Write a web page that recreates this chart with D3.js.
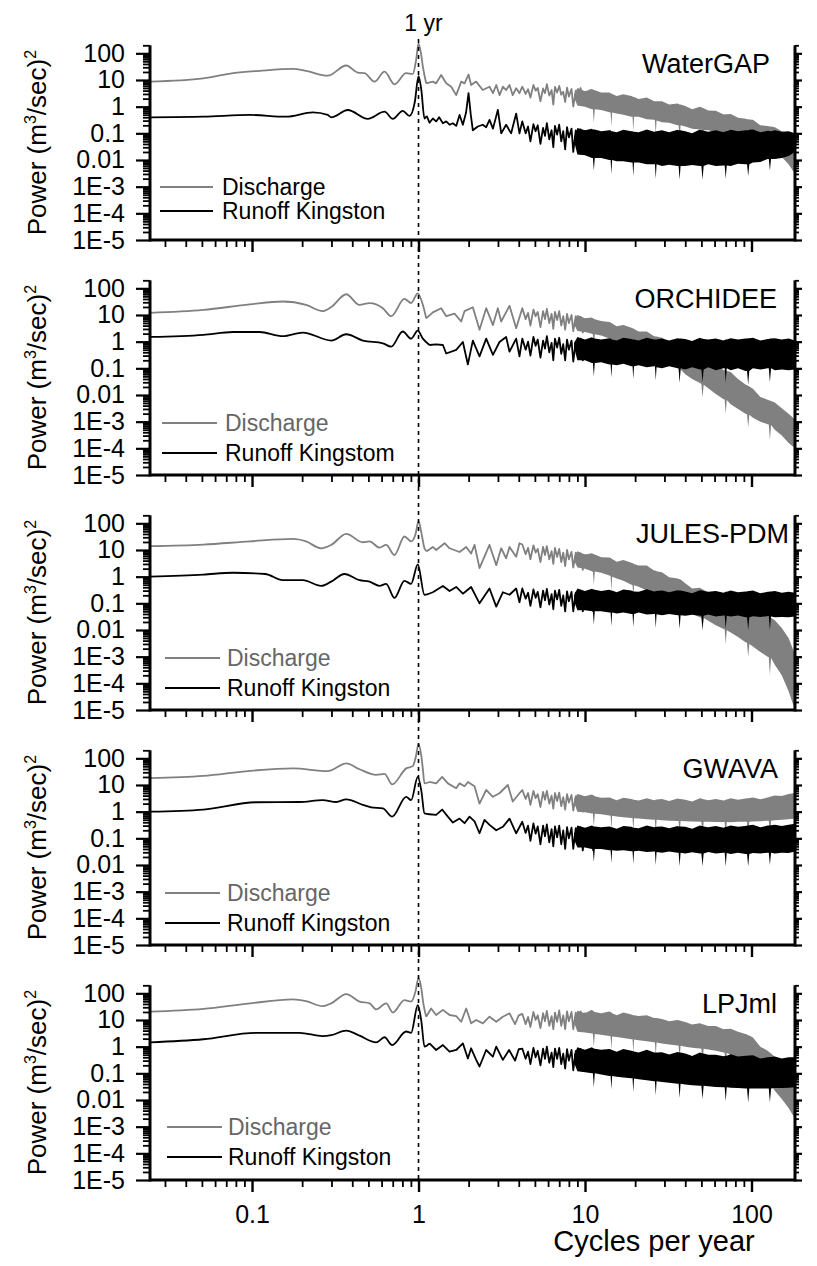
<!DOCTYPE html>
<html>
<head>
<meta charset="utf-8">
<script src="https://cdnjs.cloudflare.com/ajax/libs/d3/7.8.5/d3.min.js"></script>
<style>
body { margin: 0; background: #fff; }
svg text { font-family: "Liberation Sans", Arial, sans-serif; }
</style>
</head>
<body>
<svg></svg>
<script>
// ---- data: [cycles per year, power] ----
var panelNames = ["WaterGAP", "ORCHIDEE", "JULES-PDM", "GWAVA", "LPJml"];
var runoffNames = ["Runoff Kingston", "Runoff Kingstom", "Runoff Kingston", "Runoff Kingston", "Runoff Kingston"];
var yTickValues = [100, 10, 1, 0.1, 0.01, 1e-3, 1e-4, 1e-5];
var yTickLabels = ["100", "10", "1", "0.1", "0.01", "1E-3", "1E-4", "1E-5"];
var xTickValues = [0.1, 1, 10, 100];
var xTickLabels = ["0.1", "1", "10", "100"];

var waterGapDischarge = [[0.0244,8.7],[0.051,11.5],[0.077,18],[0.111,22],[0.176,26],[0.211,22],[0.285,14.5],[0.368,35],[0.432,19],[0.474,18],[0.544,8.7],[0.625,20.5],[0.717,6.9],[0.843,18],[0.924,17],[0.967,56],[1.0,230],[1.035,100],[1.062,32],[1.112,7.5],[1.219,8.7],[1.276,7.5],[1.368,15.4],[1.467,7.5],[1.572,5.6],[1.684,2.7],[1.805,8.7],[1.89,7.5],[1.997,16],[2.07,6.5],[2.22,8.7],[2.43,4.2],[2.67,5.6],[2.8,3.2],[2.93,6.5],[3.07,2.7],[3.21,5.6],[3.36,4.2],[3.52,6.5],[3.68,2.7],[3.86,4.9],[4.04,3.2],[4.2,5.6],[4.4,3.0],[4.55,4.5],[4.7,2.2],[4.9,6.5],[5.05,4.0],[5.2,5.0],[5.4,1.6],[5.6,4.8],[5.75,3.2],[5.9,7.0],[6.1,2.6],[6.3,4.2],[6.45,1.2],[6.6,5.5],[6.8,3.4],[7.0,6.0],[7.2,2.8],[7.4,3.6],[7.6,1.5],[7.8,5.2],[8.0,2.4],[8.3,4.6],[8.5,1.0],[8.8,4.0],[9.1,2.6],[9.4,5.0],[9.7,1.8],[10.0,3.6],[10.4,1.3],[10.8,4.2],[11.2,2.0],[11.6,3.4],[12,0.9]];
var waterGapRunoff = [[0.0244,0.40],[0.051,0.42],[0.097,0.49],[0.16,0.42],[0.232,0.61],[0.285,0.49],[0.299,0.40],[0.376,0.75],[0.496,0.35],[0.625,0.65],[0.701,0.35],[0.804,0.69],[0.882,0.45],[0.95,1.5],[1.0,14],[1.04,4.2],[1.086,0.36],[1.12,0.45],[1.164,0.25],[1.219,0.36],[1.276,0.28],[1.33,0.40],[1.401,0.24],[1.467,0.28],[1.536,0.21],[1.608,0.24],[1.684,0.19],[1.764,0.49],[1.847,0.21],[1.93,0.6],[1.997,3.2],[2.06,0.5],[2.12,0.13],[2.27,0.18],[2.43,0.21],[2.55,0.17],[2.67,0.32],[2.8,0.15],[2.995,0.75],[3.14,0.1],[3.36,0.21],[3.6,0.1],[3.86,0.55],[4.04,0.1],[4.2,0.28],[4.4,0.1],[4.55,0.18],[4.7,0.05],[4.9,0.22],[5.05,0.12],[5.2,0.2],[5.4,0.04],[5.6,0.16],[5.75,0.08],[5.9,0.24],[6.1,0.06],[6.3,0.13],[6.45,0.03],[6.6,0.19],[6.8,0.09],[7.0,0.21],[7.2,0.05],[7.4,0.12],[7.6,0.025],[7.8,0.17],[8.0,0.07],[8.3,0.15],[8.5,0.02],[8.8,0.13],[9.1,0.05],[9.4,0.14],[9.7,0.02],[10.0,0.12],[10.4,0.04],[10.8,0.13],[11.2,0.02],[11.6,0.11],[12,0.03]];
// dense noisy high-frequency part: [cycles per year, low, high]
var waterGapDischargeBand = [[8.6,2.2,2.8],[9,1.1,5],[10,1.0,3.8],[11,0.8,4.6],[11.15,0.8,4.4],[11.3,0.25,4.2],[11.45,0.8,4.1],[12.5,0.75,3.4],[14,0.62,3.4],[14.25,0.6,3.2],[14.4,0.18,3.1],[14.55,0.6,3.0],[15.5,0.55,2.5],[17,0.5,2.9],[19,0.42,2.5],[19.3,0.42,2.4],[19.5,0.12,2.3],[19.7,0.42,2.3],[21,0.42,1.95],[23.5,0.34,2.2],[26,0.32,1.6],[26.3,0.3,1.6],[26.6,0.09,1.6],[26.9,0.3,1.6],[29,0.26,1.6],[32,0.25,1.2],[36,0.2,1.3],[36.5,0.2,1.25],[37,0.06,1.2],[37.5,0.2,1.2],[40,0.18,1.05],[44,0.15,0.8],[49,0.14,1.0],[50,0.14,0.95],[50.8,0.04,0.9],[51.6,0.13,0.88],[55,0.13,0.72],[61,0.11,0.7],[68,0.09,0.51],[69,0.09,0.52],[70,0.03,0.52],[71,0.085,0.52],[75,0.08,0.53],[83,0.065,0.38],[92,0.055,0.35],[94,0.052,0.34],[95.5,0.015,0.34],[97,0.05,0.33],[102,0.045,0.32],[113,0.036,0.2],[125,0.028,0.19],[127,0.027,0.185],[129,0.008,0.18],[131,0.025,0.18],[138,0.02,0.17],[152,0.013,0.12],[167,0.007,0.1],[182.5,0.003,0.06]];
var waterGapRunoffBand = [[8.6,0.05,0.07],[9,0.016,0.16],[10,0.015,0.13],[11,0.012,0.15],[11.15,0.012,0.14],[11.3,0.004,0.14],[11.45,0.012,0.14],[12.5,0.012,0.12],[14,0.01,0.13],[14.25,0.01,0.13],[14.4,0.003,0.12],[14.55,0.01,0.12],[15.5,0.009,0.11],[17,0.009,0.135],[19,0.008,0.12],[19.3,0.008,0.12],[19.5,0.0025,0.115],[19.7,0.008,0.115],[21,0.008,0.11],[23.5,0.007,0.14],[26,0.007,0.115],[26.3,0.007,0.115],[26.6,0.002,0.12],[26.9,0.007,0.12],[29,0.006,0.13],[32,0.0066,0.11],[36,0.006,0.135],[36.5,0.006,0.13],[37,0.0018,0.13],[37.5,0.006,0.13],[40,0.006,0.12],[44,0.0065,0.1],[49,0.006,0.14],[50,0.006,0.13],[50.8,0.0018,0.13],[51.6,0.006,0.125],[55,0.007,0.115],[61,0.006,0.13],[68,0.0062,0.11],[69,0.0062,0.115],[70,0.002,0.12],[71,0.0062,0.12],[75,0.006,0.135],[83,0.0072,0.12],[92,0.007,0.13],[94,0.007,0.13],[95.5,0.0025,0.13],[97,0.007,0.135],[102,0.008,0.14],[113,0.0085,0.11],[125,0.011,0.125],[127,0.011,0.125],[129,0.004,0.12],[131,0.011,0.12],[138,0.011,0.13],[152,0.012,0.115],[167,0.014,0.12],[182.5,0.02,0.1]];

var orchideeDischarge = [[0.0244,12],[0.051,15.5],[0.097,25],[0.153,32],[0.211,24],[0.266,14],[0.299,20],[0.368,60],[0.442,24],[0.508,28],[0.611,18],[0.685,9],[0.823,40],[0.903,28],[0.99,65],[1.062,24],[1.112,7.5],[1.219,12.6],[1.368,18],[1.467,9],[1.646,11.3],[1.805,5.7],[1.89,14],[2.12,19.5],[2.325,2.8],[2.55,18],[2.8,4.2],[2.995,18],[3.136,5.7],[3.52,22],[3.86,3.2],[4.2,18],[4.4,7],[4.55,12],[4.7,4],[4.9,16],[5.05,9],[5.2,13],[5.4,3.5],[5.6,14],[5.75,7],[5.9,17],[6.1,5],[6.3,11],[6.45,3],[6.6,13],[6.8,6.5],[7.0,14],[7.2,4],[7.4,9],[7.6,2.8],[7.8,11],[8.0,5],[8.3,10],[8.5,2.5],[8.8,9],[9.1,4],[9.4,8.5],[9.7,2.2],[10.0,7],[10.4,3],[10.8,6.5],[11.2,2],[11.6,5.5],[12,2]];
var orchideeRunoff = [[0.0244,1.5],[0.051,1.8],[0.077,2.3],[0.111,2.3],[0.153,1.6],[0.202,2.2],[0.299,1.1],[0.368,1.9],[0.463,1.1],[0.611,0.87],[0.685,0.65],[0.804,2.4],[0.903,1.3],[0.99,2.6],[1.062,1.3],[1.164,0.75],[1.276,0.79],[1.401,0.75],[1.467,0.36],[1.684,0.49],[1.847,0.97],[1.979,0.14],[2.12,1.1],[2.325,0.28],[2.55,1.3],[2.8,0.32],[3.065,0.97],[3.36,1.5],[3.52,0.42],[3.86,1.3],[4.04,0.28],[4.2,1.3],[4.4,0.5],[4.55,1.0],[4.7,0.3],[4.9,1.5],[5.05,0.7],[5.2,1.2],[5.4,0.25],[5.6,1.1],[5.75,0.55],[5.9,1.6],[6.1,0.4],[6.3,0.9],[6.45,0.2],[6.6,1.3],[6.8,0.6],[7.0,1.4],[7.2,0.35],[7.4,0.8],[7.6,0.2],[7.8,1.2],[8.0,0.5],[8.3,1.1],[8.5,0.18],[8.8,1.0],[9.1,0.4],[9.4,1.3],[9.7,0.2],[10.0,0.9],[10.4,0.3],[10.8,1.1],[11.2,0.18],[11.6,1.0],[12,0.25]];
var orchideeDischargeBand = [[8.6,4.5,6],[9,2.5,10],[10,2.3,7.5],[11,2.0,8],[11.15,1.95,7.6],[11.3,0.6,7.3],[11.45,1.9,7.0],[12.5,1.7,5.9],[14,1.3,5.5],[14.25,1.25,5.2],[14.4,0.38,5.0],[14.55,1.2,4.8],[15.5,1.0,3.8],[17,0.85,4.2],[19,0.65,3.3],[19.3,0.64,3.2],[19.5,0.19,3.1],[19.7,0.62,3.0],[21,0.55,2.4],[23.5,0.4,2.4],[26,0.32,1.6],[26.3,0.31,1.6],[26.6,0.09,1.55],[26.9,0.3,1.55],[29,0.22,1.4],[32,0.17,0.95],[36,0.1,0.85],[36.5,0.1,0.8],[37,0.028,0.78],[37.5,0.09,0.76],[40,0.06,0.57],[44,0.04,0.36],[49,0.028,0.38],[50,0.026,0.34],[50.8,0.008,0.32],[51.6,0.024,0.3],[55,0.018,0.2],[61,0.011,0.15],[68,0.007,0.085],[69,0.0068,0.085],[70,0.002,0.083],[71,0.0065,0.08],[75,0.0045,0.073],[83,0.003,0.04],[92,0.002,0.025],[94,0.0019,0.023],[95.5,0.0006,0.022],[97,0.0018,0.021],[102,0.0014,0.017],[113,0.001,0.0085],[125,0.0008,0.0066],[127,0.00078,0.0064],[129,0.0002,0.0062],[131,0.00075,0.006],[138,0.0005,0.0052],[152,0.0003,0.0032],[167,0.00016,0.002],[182.5,0.0001,0.0012]];
var orchideeRunoffBand = [[8.6,0.6,0.9],[9,0.2,1.5],[10,0.2,1.2],[11,0.16,1.45],[11.15,0.16,1.4],[11.3,0.05,1.35],[11.45,0.16,1.3],[12.5,0.17,1.2],[14,0.14,1.35],[14.25,0.14,1.3],[14.4,0.045,1.25],[14.55,0.14,1.2],[15.5,0.13,1.1],[17,0.15,1.4],[19,0.12,1.25],[19.3,0.12,1.2],[19.5,0.04,1.2],[19.7,0.12,1.2],[21,0.13,1.1],[23.5,0.11,1.4],[26,0.12,1.2],[26.3,0.12,1.2],[26.6,0.035,1.2],[26.9,0.11,1.2],[29,0.1,1.3],[32,0.12,1.1],[36,0.1,1.35],[36.5,0.1,1.3],[37,0.03,1.3],[37.5,0.1,1.3],[40,0.09,1.25],[44,0.11,1.05],[49,0.09,1.4],[50,0.09,1.3],[50.8,0.03,1.3],[51.6,0.09,1.25],[55,0.11,1.2],[61,0.085,1.3],[68,0.1,1.1],[69,0.1,1.15],[70,0.03,1.2],[71,0.1,1.2],[75,0.085,1.35],[83,0.1,1.2],[92,0.08,1.3],[94,0.08,1.3],[95.5,0.025,1.35],[97,0.08,1.35],[102,0.1,1.4],[113,0.09,1.1],[125,0.1,1.25],[127,0.1,1.25],[129,0.03,1.3],[131,0.1,1.3],[138,0.085,1.35],[152,0.09,1.2],[167,0.085,1.3],[182.5,0.09,1.1]];

var julesDischarge = [[0.0244,14],[0.051,16],[0.097,21],[0.176,26],[0.211,21],[0.26,11.6],[0.299,15.5],[0.368,40],[0.463,19.5],[0.508,21],[0.583,12.3],[0.639,15.5],[0.717,6.5],[0.823,32],[0.903,21],[0.96,40],[1.0,120],[1.04,45],[1.086,11.6],[1.12,9],[1.219,13],[1.276,10],[1.434,18],[1.536,11.6],[1.764,8.4],[1.934,13],[2.07,7.4],[2.17,15.5],[2.325,2.1],[2.669,15.5],[2.93,2.7],[3.136,11.6],[3.36,4.9],[3.52,13],[3.86,5.6],[4.04,18],[4.2,16],[4.4,7],[4.55,12],[4.7,4.5],[4.9,15],[5.05,8],[5.2,11],[5.4,3.5],[5.6,13],[5.75,6.5],[5.9,14],[6.1,4.5],[6.3,9],[6.45,3],[6.6,12],[6.8,5.5],[7.0,11],[7.2,3.5],[7.4,8],[7.6,2.5],[7.8,10],[8.0,4.5],[8.3,8.5],[8.5,2.2],[8.8,8],[9.1,3.5],[9.4,7.5],[9.7,1.8],[10.0,6.5],[10.4,2.5],[10.8,6],[11.2,1.6],[11.6,5],[12,1.5]];
var julesRunoff = [[0.0244,1.0],[0.051,1.2],[0.077,1.4],[0.12,1.26],[0.153,0.74],[0.202,0.74],[0.26,0.45],[0.299,0.65],[0.359,1.26],[0.442,0.74],[0.508,0.65],[0.583,0.45],[0.639,0.54],[0.717,0.16],[0.823,0.69],[0.903,0.54],[0.99,2.9],[1.086,0.21],[1.219,0.26],[1.401,0.45],[1.536,0.29],[1.684,0.41],[1.847,0.23],[2.07,0.41],[2.325,0.1],[2.669,0.36],[2.93,0.075],[3.21,0.26],[3.52,0.21],[3.86,0.36],[4.04,0.11],[4.2,0.36],[4.4,0.15],[4.55,0.25],[4.7,0.08],[4.9,0.33],[5.05,0.16],[5.2,0.27],[5.4,0.07],[5.6,0.3],[5.75,0.13],[5.9,0.35],[6.1,0.09],[6.3,0.22],[6.45,0.06],[6.6,0.3],[6.8,0.14],[7.0,0.32],[7.2,0.08],[7.4,0.2],[7.6,0.05],[7.8,0.28],[8.0,0.12],[8.3,0.27],[8.5,0.05],[8.8,0.25],[9.1,0.1],[9.4,0.3],[9.7,0.05],[10.0,0.24],[10.4,0.08],[10.8,0.27],[11.2,0.05],[11.6,0.24],[12,0.07]];
var julesDischargeBand = [[8.6,4,5.5],[9,2.2,9],[10,2.0,6.8],[11,1.6,7.5],[11.15,1.58,7.2],[11.3,0.5,7],[11.45,1.55,6.8],[12.5,1.4,5.4],[14,1.1,5.2],[14.25,1.05,5],[14.4,0.3,4.8],[14.55,1.0,4.6],[15.5,0.85,3.6],[17,0.7,4.2],[19,0.5,3.3],[19.3,0.49,3.2],[19.5,0.15,3.1],[19.7,0.48,3.0],[21,0.42,2.6],[23.5,0.3,2.6],[26,0.22,1.7],[26.3,0.21,1.7],[26.6,0.06,1.65],[26.9,0.2,1.6],[29,0.15,1.45],[32,0.11,0.95],[36,0.075,0.85],[36.5,0.072,0.82],[37,0.02,0.8],[37.5,0.068,0.78],[40,0.05,0.57],[44,0.04,0.36],[49,0.03,0.38],[50,0.029,0.35],[50.8,0.009,0.33],[51.6,0.028,0.32],[55,0.022,0.25],[61,0.015,0.22],[68,0.011,0.14],[69,0.0105,0.14],[70,0.003,0.14],[71,0.0098,0.14],[75,0.008,0.14],[83,0.0055,0.1],[92,0.0035,0.09],[94,0.0033,0.087],[95.5,0.001,0.085],[97,0.003,0.082],[102,0.0024,0.075],[113,0.0015,0.043],[125,0.001,0.033],[127,0.00095,0.032],[129,0.0002,0.03],[131,0.0009,0.029],[138,0.0005,0.023],[152,0.0002,0.012],[167,0.00005,0.005],[182.5,0.00001,0.0012]];
var julesRunoffBand = [[8.6,0.12,0.2],[9,0.055,0.36],[10,0.055,0.29],[11,0.05,0.35],[11.15,0.05,0.34],[11.3,0.016,0.33],[11.45,0.05,0.32],[12.5,0.05,0.29],[14,0.045,0.32],[14.25,0.045,0.31],[14.4,0.014,0.3],[14.55,0.045,0.3],[15.5,0.042,0.26],[17,0.045,0.33],[19,0.04,0.3],[19.3,0.04,0.29],[19.5,0.013,0.28],[19.7,0.04,0.28],[21,0.045,0.27],[23.5,0.038,0.34],[26,0.04,0.28],[26.3,0.04,0.28],[26.6,0.012,0.29],[26.9,0.039,0.29],[29,0.036,0.3],[32,0.04,0.26],[36,0.036,0.31],[36.5,0.036,0.3],[37,0.011,0.3],[37.5,0.036,0.3],[40,0.034,0.28],[44,0.037,0.24],[49,0.034,0.31],[50,0.034,0.3],[50.8,0.011,0.3],[51.6,0.034,0.29],[55,0.038,0.27],[61,0.032,0.29],[68,0.035,0.25],[69,0.035,0.26],[70,0.011,0.27],[71,0.034,0.27],[75,0.032,0.3],[83,0.035,0.26],[92,0.03,0.28],[94,0.03,0.28],[95.5,0.01,0.29],[97,0.03,0.29],[102,0.033,0.3],[113,0.031,0.24],[125,0.033,0.27],[127,0.033,0.27],[129,0.01,0.28],[131,0.032,0.28],[138,0.03,0.29],[152,0.031,0.25],[167,0.03,0.27],[182.5,0.032,0.25]];

var gwavaDischarge = [[0.0244,18],[0.051,22],[0.097,34],[0.176,42],[0.285,33],[0.368,65],[0.442,39],[0.557,24],[0.625,26],[0.695,10.5],[0.843,42],[0.924,51],[0.965,120],[1.0,350],[1.04,120],[1.062,40],[1.086,11.5],[1.164,13],[1.276,11.5],[1.386,20],[1.5,11.5],[1.684,7.5],[1.764,11.5],[1.89,9],[1.979,13],[2.17,9],[2.325,2.0],[2.549,6.5],[2.795,3.6],[3.065,4.9],[3.44,10],[3.68,2.4],[4.04,4.9],[4.2,6.5],[4.4,3],[4.55,5],[4.7,1.8],[4.9,6],[5.05,3.2],[5.2,4.5],[5.4,1.5],[5.6,5.5],[5.75,2.8],[5.9,6],[6.1,2],[6.3,4],[6.45,1.3],[6.6,5],[6.8,2.5],[7.0,5.2],[7.2,1.6],[7.4,3.5],[7.6,1.2],[7.8,4.5],[8.0,2.2],[8.3,4.2],[8.5,1.1],[8.8,3.8],[9.1,1.8],[9.4,4],[9.7,1.0],[10.0,3.5],[10.4,1.5],[10.8,3.6],[11.2,1.0],[11.6,3.2],[12,1.1]];
var gwavaRunoff = [[0.0244,1.0],[0.051,1.2],[0.105,2.25],[0.193,2.3],[0.266,2.7],[0.321,2.3],[0.368,2.9],[0.463,1.8],[0.519,1.45],[0.611,1.33],[0.695,0.65],[0.843,3.6],[0.903,2.7],[0.99,20],[1.04,6],[1.086,0.86],[1.164,0.8],[1.276,0.76],[1.386,1.2],[1.5,0.65],[1.608,0.39],[1.764,0.55],[1.89,0.37],[2.025,0.65],[2.17,0.43],[2.325,0.155],[2.49,0.49],[2.669,0.32],[2.93,0.2],[3.21,0.27],[3.52,0.55],[3.86,0.155],[4.2,0.42],[4.4,0.16],[4.55,0.3],[4.7,0.08],[4.9,0.36],[5.05,0.15],[5.2,0.28],[5.4,0.06],[5.6,0.3],[5.75,0.12],[5.9,0.33],[6.1,0.07],[6.3,0.22],[6.45,0.05],[6.6,0.28],[6.8,0.11],[7.0,0.3],[7.2,0.06],[7.4,0.2],[7.6,0.04],[7.8,0.26],[8.0,0.1],[8.3,0.25],[8.5,0.04],[8.8,0.24],[9.1,0.08],[9.4,0.26],[9.7,0.035],[10.0,0.22],[10.4,0.06],[10.8,0.24],[11.2,0.035],[11.6,0.22],[12,0.05]];
var gwavaDischargeBand = [[8.6,2.2,3],[9,1.0,4.6],[10,0.95,3.8],[11,0.85,4.4],[11.15,0.85,4.2],[11.3,0.28,4.0],[11.45,0.84,3.8],[12.5,0.8,3.3],[14,0.72,3.4],[14.25,0.71,3.3],[14.4,0.22,3.2],[14.55,0.7,3.1],[15.5,0.66,2.7],[17,0.62,3.3],[19,0.58,3.0],[19.3,0.58,2.9],[19.5,0.18,2.8],[19.7,0.57,2.8],[21,0.55,2.6],[23.5,0.52,3.2],[26,0.5,2.7],[26.3,0.5,2.75],[26.6,0.15,2.8],[26.9,0.5,2.85],[29,0.48,3.0],[32,0.46,2.5],[36,0.45,3.1],[36.5,0.45,3.05],[37,0.13,3.0],[37.5,0.45,3.0],[40,0.44,2.8],[44,0.43,2.4],[49,0.42,3.2],[50,0.42,3.1],[50.8,0.12,3.0],[51.6,0.42,2.95],[55,0.42,2.7],[61,0.41,3.0],[68,0.41,2.6],[69,0.41,2.7],[70,0.12,2.8],[71,0.41,2.85],[75,0.4,3.2],[83,0.42,2.8],[92,0.42,3.1],[94,0.42,3.15],[95.5,0.12,3.2],[97,0.42,3.25],[102,0.43,3.4],[113,0.44,2.9],[125,0.46,3.4],[127,0.46,3.5],[129,0.14,3.6],[131,0.46,3.7],[138,0.48,4.0],[152,0.5,3.9],[167,0.52,4.6],[182.5,0.55,5]];
var gwavaRunoffBand = [[8.6,0.09,0.15],[9,0.045,0.3],[10,0.045,0.25],[11,0.04,0.3],[11.15,0.04,0.29],[11.3,0.013,0.28],[11.45,0.04,0.28],[12.5,0.04,0.26],[14,0.036,0.28],[14.25,0.036,0.27],[14.4,0.012,0.26],[14.55,0.036,0.26],[15.5,0.034,0.23],[17,0.036,0.29],[19,0.033,0.27],[19.3,0.033,0.26],[19.5,0.011,0.25],[19.7,0.033,0.25],[21,0.034,0.24],[23.5,0.031,0.3],[26,0.032,0.26],[26.3,0.032,0.26],[26.6,0.01,0.27],[26.9,0.031,0.27],[29,0.029,0.28],[32,0.032,0.24],[36,0.029,0.29],[36.5,0.029,0.28],[37,0.009,0.28],[37.5,0.029,0.28],[40,0.027,0.27],[44,0.03,0.23],[49,0.027,0.3],[50,0.027,0.29],[50.8,0.009,0.29],[51.6,0.027,0.28],[55,0.031,0.26],[61,0.027,0.29],[68,0.029,0.25],[69,0.029,0.26],[70,0.009,0.27],[71,0.028,0.27],[75,0.026,0.3],[83,0.029,0.27],[92,0.026,0.29],[94,0.026,0.3],[95.5,0.009,0.3],[97,0.026,0.31],[102,0.028,0.32],[113,0.027,0.26],[125,0.029,0.3],[127,0.029,0.3],[129,0.01,0.31],[131,0.029,0.31],[138,0.027,0.32],[152,0.029,0.29],[167,0.028,0.32],[182.5,0.032,0.35]];

var lpjmlDischarge = [[0.0244,20.5],[0.051,26],[0.097,42],[0.176,59],[0.211,51],[0.266,33],[0.299,42],[0.368,94],[0.442,49],[0.508,42],[0.557,25],[0.639,42],[0.701,19],[0.823,56],[0.903,49],[0.96,120],[1.0,380],[1.04,150],[1.07,40],[1.112,13.3],[1.19,27],[1.276,15.4],[1.401,24],[1.536,15.4],[1.684,14],[1.805,8.6],[1.934,27],[2.07,7.5],[2.22,10],[2.434,7.5],[2.669,13.3],[2.93,8.6],[3.21,13.3],[3.52,17.8],[3.8,7],[4.0,15],[4.2,17],[4.4,7],[4.55,13],[4.7,5.5],[4.9,20],[5.05,10],[5.2,15],[5.4,5],[5.6,18],[5.75,9],[5.9,22],[6.1,6],[6.3,14],[6.45,4.5],[6.6,19],[6.8,8.5],[7.0,23],[7.2,6],[7.4,15],[7.6,4.5],[7.8,21],[8.0,9],[8.3,20],[8.5,4.5],[8.8,19],[9.1,7],[9.4,21],[9.7,4],[10.0,18],[10.4,6.5],[10.8,20],[11.2,4],[11.6,17],[12,5]];
var lpjmlRunoff = [[0.0244,1.45],[0.051,1.9],[0.105,3.3],[0.193,3.3],[0.266,2.5],[0.299,2.7],[0.368,4.0],[0.442,2.6],[0.557,1.45],[0.625,2.25],[0.695,1.15],[0.843,3.7],[0.903,3.3],[0.99,36],[1.04,9],[1.086,1.0],[1.164,1.33],[1.276,0.75],[1.401,1.15],[1.536,0.65],[1.684,0.75],[1.847,1.33],[1.979,0.36],[2.07,0.87],[2.22,0.32],[2.325,0.18],[2.549,0.75],[2.795,0.42],[2.93,1.0],[3.21,0.32],[3.5,0.75],[3.8,0.3],[4.0,0.8],[4.2,0.85],[4.4,0.35],[4.55,0.65],[4.7,0.22],[4.9,0.9],[5.05,0.4],[5.2,0.7],[5.4,0.2],[5.6,0.85],[5.75,0.35],[5.9,1.0],[6.1,0.25],[6.3,0.6],[6.45,0.17],[6.6,0.85],[6.8,0.35],[7.0,0.9],[7.2,0.22],[7.4,0.55],[7.6,0.15],[7.8,0.8],[8.0,0.3],[8.3,0.75],[8.5,0.13],[8.8,0.7],[9.1,0.25],[9.4,0.8],[9.7,0.12],[10.0,0.65],[10.4,0.2],[10.8,0.7],[11.2,0.12],[11.6,0.62],[12,0.15]];
var lpjmlDischargeBand = [[8.6,8,12],[9,3.6,22],[10,3.4,18],[11,3.1,24],[11.15,3.05,22],[11.3,1.0,21],[11.45,3.0,20],[12.5,2.8,18],[14,2.5,21],[14.25,2.45,20],[14.4,0.8,19],[14.55,2.4,18],[15.5,2.3,15],[17,2.1,19],[19,1.9,16],[19.3,1.88,15.5],[19.5,0.6,15],[19.7,1.85,15],[21,1.75,14],[23.5,1.6,15],[26,1.45,12],[26.3,1.43,12],[26.6,0.45,12],[26.9,1.42,11.8],[29,1.3,11],[32,1.2,9],[36,1.1,10],[36.5,1.09,9.8],[37,0.33,9.6],[37.5,1.08,9.4],[40,1.0,8.5],[44,0.92,6.8],[49,0.85,7.5],[50,0.84,7.2],[50.8,0.26,7],[51.6,0.83,6.8],[55,0.78,6],[61,0.7,6],[68,0.6,4.5],[69,0.59,4.55],[70,0.18,4.6],[71,0.58,4.6],[75,0.5,4.7],[83,0.4,3.6],[92,0.28,3],[94,0.26,2.85],[95.5,0.07,2.7],[97,0.24,2.6],[102,0.17,2.2],[113,0.09,1.0],[125,0.045,0.7],[127,0.042,0.65],[129,0.012,0.6],[131,0.037,0.56],[138,0.022,0.42],[152,0.011,0.18],[167,0.005,0.08],[182.5,0.002,0.03]];
var lpjmlRunoffBand = [[8.6,0.25,0.5],[9,0.12,0.95],[10,0.11,0.77],[11,0.1,0.95],[11.15,0.1,0.9],[11.3,0.03,0.86],[11.45,0.1,0.83],[12.5,0.09,0.76],[14,0.08,0.82],[14.25,0.08,0.8],[14.4,0.025,0.77],[14.55,0.08,0.75],[15.5,0.075,0.64],[17,0.07,0.82],[19,0.065,0.71],[19.3,0.065,0.69],[19.5,0.02,0.67],[19.7,0.064,0.66],[21,0.06,0.61],[23.5,0.055,0.77],[26,0.05,0.61],[26.3,0.05,0.61],[26.6,0.015,0.61],[26.9,0.05,0.61],[29,0.047,0.62],[32,0.044,0.51],[36,0.041,0.63],[36.5,0.041,0.62],[37,0.012,0.61],[37.5,0.041,0.6],[40,0.038,0.55],[44,0.036,0.45],[49,0.034,0.6],[50,0.034,0.58],[50.8,0.011,0.56],[51.6,0.034,0.55],[55,0.033,0.5],[61,0.031,0.5],[68,0.03,0.44],[69,0.03,0.45],[70,0.009,0.46],[71,0.03,0.46],[75,0.029,0.52],[83,0.028,0.43],[92,0.027,0.46],[94,0.027,0.46],[95.5,0.008,0.47],[97,0.027,0.47],[102,0.027,0.48],[113,0.027,0.36],[125,0.027,0.4],[127,0.027,0.4],[129,0.008,0.41],[131,0.027,0.41],[138,0.028,0.43],[152,0.028,0.36],[167,0.029,0.4],[182.5,0.03,0.4]];

var models = [
  {discharge: waterGapDischarge, runoff: waterGapRunoff, dBand: waterGapDischargeBand, rBand: waterGapRunoffBand},
  {discharge: orchideeDischarge, runoff: orchideeRunoff, dBand: orchideeDischargeBand, rBand: orchideeRunoffBand},
  {discharge: julesDischarge, runoff: julesRunoff, dBand: julesDischargeBand, rBand: julesRunoffBand},
  {discharge: gwavaDischarge, runoff: gwavaRunoff, dBand: gwavaDischargeBand, rBand: gwavaRunoffBand},
  {discharge: lpjmlDischarge, runoff: lpjmlRunoff, dBand: lpjmlDischargeBand, rBand: lpjmlRunoffBand}
];

// layout
var svgWidth = 817, svgHeight = 1266;
var plotLeft = 150, plotRight = 795,
    plotTop = 45.3, plotBottom = 240,
    panelStep = 235;
var grey = "#808080";
var smoothUpTo = 1.1;   // below this the spectra are smooth curves

// hand placed labels, like in the original
var labelRight = [770, 777, 789, 778, 777];
var legendPos = [
  {x1: 160, x2: 213, tx: 222, y1: 187, y2: 211},
  {x1: 162, x2: 217, tx: 225, y1: 188, y2: 218},
  {x1: 165, x2: 220, tx: 227, y1: 188, y2: 218},
  {x1: 165, x2: 220, tx: 227, y1: 188, y2: 218},
  {x1: 167, x2: 222, tx: 228, y1: 187, y2: 217}
];

var svg = d3.select("svg").attr("width", svgWidth).attr("height", svgHeight);
svg.append("rect").attr("width", svgWidth).attr("height", svgHeight).attr("fill", "#fff");

var xScale = d3.scaleLog().domain([1/41, 182.5]).range([plotLeft, plotRight]);
var yScale = d3.scaleLog().domain([1e-5, 200]).range([plotBottom, plotTop]);

// minor tick values
var xMinor = [], yMinor = [];
for (var e = -2; e <= 2; e++) {
  for (var k = 2; k <= 9; k++) {
    var v = k * Math.pow(10, e);
    if (v >= 1/41 && v <= 182.5) xMinor.push(v);
  }
}
for (var e2 = -5; e2 <= 2; e2++) {
  for (var k2 = 2; k2 <= 9; k2++) {
    var v2 = k2 * Math.pow(10, e2);
    if (v2 <= 200) yMinor.push(v2);
  }
}

var smoothLine = d3.line()
  .x(function(d) { return xScale(d[0]); })
  .y(function(d) { return yScale(d[1]); })
  .curve(d3.curveMonotoneX);
var roughLine = d3.line()
  .x(function(d) { return xScale(d[0]); })
  .y(function(d) { return yScale(d[1]); });

var band = d3.area()
  .x(function(d) { return xScale(d[0]); })
  .y0(function(d) { return yScale(d[1]); })
  .y1(function(d) { return yScale(d[2]); });

function spectrumPath(data) {
  var cut = data.findIndex(function(d) { return d[0] > smoothUpTo; });
  return smoothLine(data.slice(0, cut + 1)) + roughLine(data.slice(cut));
}

function styleAxis(sel, width) {
  sel.select(".domain").remove();
  sel.selectAll(".tick line").attr("stroke", "#000").attr("stroke-width", width);
  sel.selectAll(".tick text")
    .attr("fill", "#000")
    .style("font-family", '"Liberation Sans", Arial, sans-serif');
}

models.forEach(function(m, i) {
  var g = svg.append("g").attr("transform", "translate(0," + (i * panelStep) + ")");
  var last = (i === models.length - 1);

  // discharge (grey) first, runoff (black) on top
  g.append("path").attr("d", band(m.dBand)).attr("fill", grey);
  g.append("path").attr("d", spectrumPath(m.discharge))
    .attr("fill", "none").attr("stroke", grey).attr("stroke-width", 1.8)
    .attr("stroke-linejoin", "round");
  g.append("path").attr("d", band(m.rBand)).attr("fill", "#000");
  g.append("path").attr("d", spectrumPath(m.runoff))
    .attr("fill", "none").attr("stroke", "#000").attr("stroke-width", 1.8)
    .attr("stroke-linejoin", "round");

  // left axis
  var left = g.append("g").attr("transform", "translate(" + plotLeft + ",0)");
  left.append("g").call(d3.axisLeft(yScale).tickValues(yMinor).tickSize(7).tickFormat(""))
    .call(styleAxis, 1.8);
  left.append("g").call(d3.axisLeft(yScale).tickValues(yTickValues).tickSize(14).tickPadding(11)
      .tickFormat(function(d, j) { return yTickLabels[j]; }))
    .call(styleAxis, 2.2)
    .selectAll("text").style("font-size", "25px");

  // right axis, ticks only
  var right = g.append("g").attr("transform", "translate(" + plotRight + ",0)");
  right.append("g").call(d3.axisRight(yScale).tickValues(yMinor).tickSize(4).tickFormat(""))
    .call(styleAxis, 1.8);
  right.append("g").call(d3.axisRight(yScale).tickValues(yTickValues).tickSize(7).tickFormat(""))
    .call(styleAxis, 2.2);

  // bottom axis
  var bottom = g.append("g").attr("transform", "translate(0," + plotBottom + ")");
  bottom.append("g").call(d3.axisBottom(xScale).tickValues(xMinor).tickSize(7).tickFormat(""))
    .call(styleAxis, 1.8);
  bottom.append("g").call(d3.axisBottom(xScale).tickValues(xTickValues).tickSize(12).tickPadding(13)
      .tickFormat(function(d, j) { return last ? xTickLabels[j] : ""; }))
    .call(styleAxis, 2.4)
    .selectAll("text").style("font-size", "25px");

  // axis lines
  g.append("line").attr("x1", plotLeft).attr("x2", plotLeft)
    .attr("y1", plotTop).attr("y2", plotBottom + 1.5)
    .attr("stroke", "#000").attr("stroke-width", 3);
  g.append("line").attr("x1", plotRight).attr("x2", plotRight)
    .attr("y1", plotTop).attr("y2", plotBottom + 1.5)
    .attr("stroke", "#000").attr("stroke-width", 3);
  g.append("line").attr("x1", plotLeft).attr("x2", plotRight)
    .attr("y1", plotBottom).attr("y2", plotBottom)
    .attr("stroke", "#000").attr("stroke-width", 3);

  // y title
  var yt = g.append("text")
    .attr("transform", "translate(46," + ((plotTop + plotBottom) / 2) + ") rotate(-90)")
    .attr("text-anchor", "middle")
    .style("font-size", "26px");
  yt.append("tspan").text("Power (m");
  yt.append("tspan").attr("dy", -10).style("font-size", "16px").text("3");
  yt.append("tspan").attr("dy", 10).text("/sec)");
  yt.append("tspan").attr("dy", -10).style("font-size", "16px").text("2");

  // model name
  g.append("text").attr("x", labelRight[i]).attr("y", 73)
    .attr("text-anchor", "end").style("font-size", "27px")
    .text(panelNames[i]);

  // legend
  var lp = legendPos[i];
  g.append("line").attr("x1", lp.x1).attr("x2", lp.x2).attr("y1", lp.y1).attr("y2", lp.y1)
    .attr("stroke", grey).attr("stroke-width", 1.8);
  g.append("text").attr("x", lp.tx).attr("y", lp.y1 + 8).style("font-size", "23px")
    .attr("fill", i === 0 ? "#000" : "#666").text("Discharge");
  g.append("line").attr("x1", lp.x1).attr("x2", lp.x2).attr("y1", lp.y2).attr("y2", lp.y2)
    .attr("stroke", "#000").attr("stroke-width", 1.8);
  g.append("text").attr("x", lp.tx).attr("y", lp.y2 + 8).style("font-size", "23px")
    .text(runoffNames[i]);
});

// annual cycle marker
svg.append("line")
  .attr("x1", xScale(1)).attr("x2", xScale(1))
  .attr("y1", 39).attr("y2", plotBottom + panelStep * 4)
  .attr("stroke", "#000").attr("stroke-width", 1.6)
  .attr("stroke-dasharray", "4,4");
svg.append("text").attr("x", xScale(1) + 5).attr("y", 31)
  .attr("text-anchor", "middle").style("font-size", "23px").text("1 yr");

svg.append("text").attr("x", 654).attr("y", 1251)
  .attr("text-anchor", "middle").style("font-size", "29px").text("Cycles per year");
</script>
</body>
</html>
